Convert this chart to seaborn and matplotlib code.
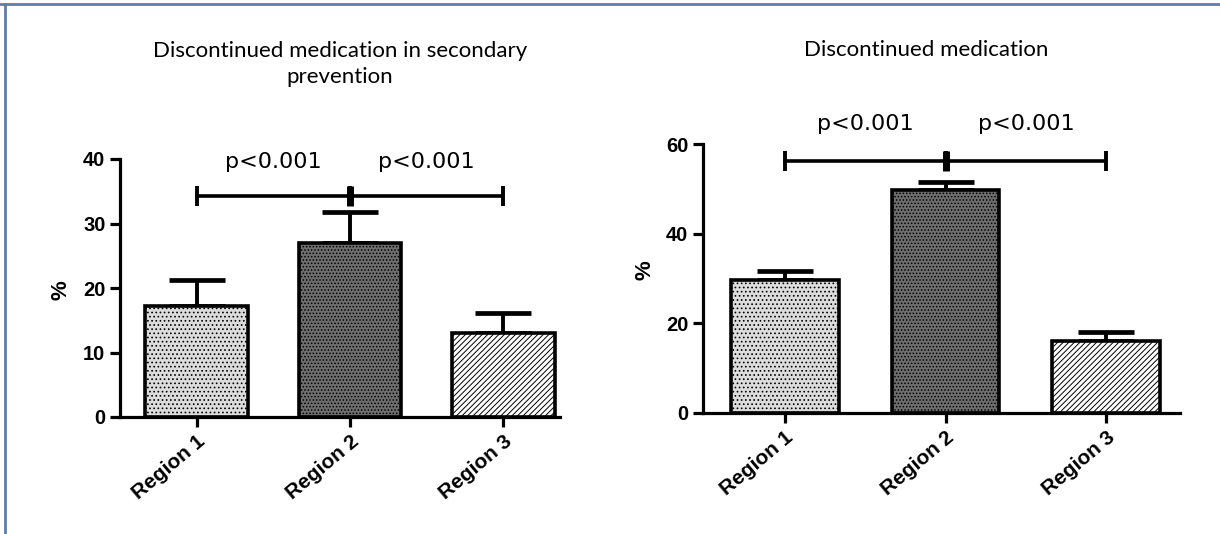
import numpy as np
import matplotlib
matplotlib.use('Agg')
import matplotlib.pyplot as plt
from matplotlib.lines import Line2D
import seaborn as sns

regions = ['Region 1', 'Region 2', 'Region 3']

# discontinued medication in secondary prevention (%)
secondary_pct = [17.2, 27.0, 13.0]
secondary_err = [4.0, 4.8, 3.1]

# discontinued medication overall (%)
overall_pct = [29.6, 49.8, 16.0]
overall_err = [2.0, 1.8, 2.0]

p_labels = ['p<0.001', 'p<0.001']

sns.set_theme(style='ticks')
plt.rcParams['font.family'] = ['Liberation Sans', 'DejaVu Sans']
plt.rcParams.update({'text.color': 'black', 'axes.labelcolor': 'black',
                     'xtick.color': 'black', 'ytick.color': 'black',
                     'axes.edgecolor': 'black', 'hatch.linewidth': 0.7})

fills   = ['#dcdcdc', '#6e6e6e', '#ffffff']
hatches = ['....', '.....', '//////']


def draw_panel(ax, vals, errs, ymax, yticks, bar_y, text_y, width, xlim):
    sns.barplot(x=regions, y=vals, hue=regions, palette=fills, legend=False,
                width=width, edgecolor='black', linewidth=2.6, ax=ax, zorder=2)
    for patch, h in zip(ax.patches, hatches):
        patch.set_hatch(h)
    x = np.arange(len(vals))
    ax.errorbar(x, vals, yerr=[np.zeros(len(errs)), errs], fmt='none',
                ecolor='black', elinewidth=2.8, capsize=20, capthick=3.4, zorder=1)
    # significance bracket
    ax.plot([x[0], x[-1]], [bar_y, bar_y], color='black', lw=2.6, clip_on=False)
    ax.plot(x, [bar_y] * len(x), ls='none', marker='|', ms=15, mew=2.8,
            color='black', clip_on=False)
    ax.plot([x[1]], [bar_y], ls='none', marker='|', ms=15, mew=5,
            color='black', clip_on=False)
    for i, lab in enumerate(p_labels):
        ax.text((x[i] + x[i + 1]) / 2, text_y, lab, ha='center', va='center',
                fontsize=16, family='DejaVu Sans', clip_on=False)
    ax.set_ylim(0, ymax)
    ax.set_xlim(*xlim)
    ax.set_yticks(yticks)
    ax.set_ylabel('%', fontsize=16, fontweight='bold')
    ax.set_xlabel('')
    sns.despine(ax=ax)
    for s in ['left', 'bottom']:
        ax.spines[s].set_linewidth(2.3)
    ax.tick_params(axis='both', width=2.3, length=7, labelsize=14.5)
    for t in ax.get_yticklabels():
        t.set_fontweight('bold')
    for t in ax.get_xticklabels():
        t.set_fontweight('bold')
        t.set_rotation(40)
        t.set_ha('right')
        t.set_rotation_mode('anchor')
        t.set_fontsize(15)


fig = plt.figure(figsize=(12.2, 5.34), dpi=100)
ax1 = fig.add_axes([120 / 1220, 1 - 417 / 534, 440 / 1220, 258 / 534])
ax2 = fig.add_axes([703 / 1220, 1 - 413 / 534, 477 / 1220, 269 / 534])

draw_panel(ax1, secondary_pct, secondary_err, 40, [0, 10, 20, 30, 40],
           34.3, 39.5, 0.67, (-0.5, 2.37))
draw_panel(ax2, overall_pct, overall_err, 60, [0, 20, 40, 60],
           56.2, 64.4, 0.67, (-0.51, 2.46))

ax1.yaxis.set_label_coords(-0.11, 0.49)
ax2.yaxis.set_label_coords(-0.1, 0.53)

title_font = ['Lato', 'DejaVu Sans']
fig.text(340 / 1220, 1 - 64 / 534,
         'Discontinued medication in secondary\nprevention',
         ha='center', va='center', fontsize=16, family=title_font,
         linespacing=1.4)
fig.text(926 / 1220, 1 - 50 / 534, 'Discontinued medication',
         ha='center', va='center', fontsize=16, family=title_font)

# frame edges of the cropped figure
fig.add_artist(Line2D([0, 1], [1 - 4 / 534] * 2, transform=fig.transFigure,
                      color='#5b7fa8', lw=2))
fig.add_artist(Line2D([5 / 1220] * 2, [0, 1 - 4 / 534], transform=fig.transFigure,
                      color='#5b7fa8', lw=2))

fig.savefig('out.png', dpi=100)
